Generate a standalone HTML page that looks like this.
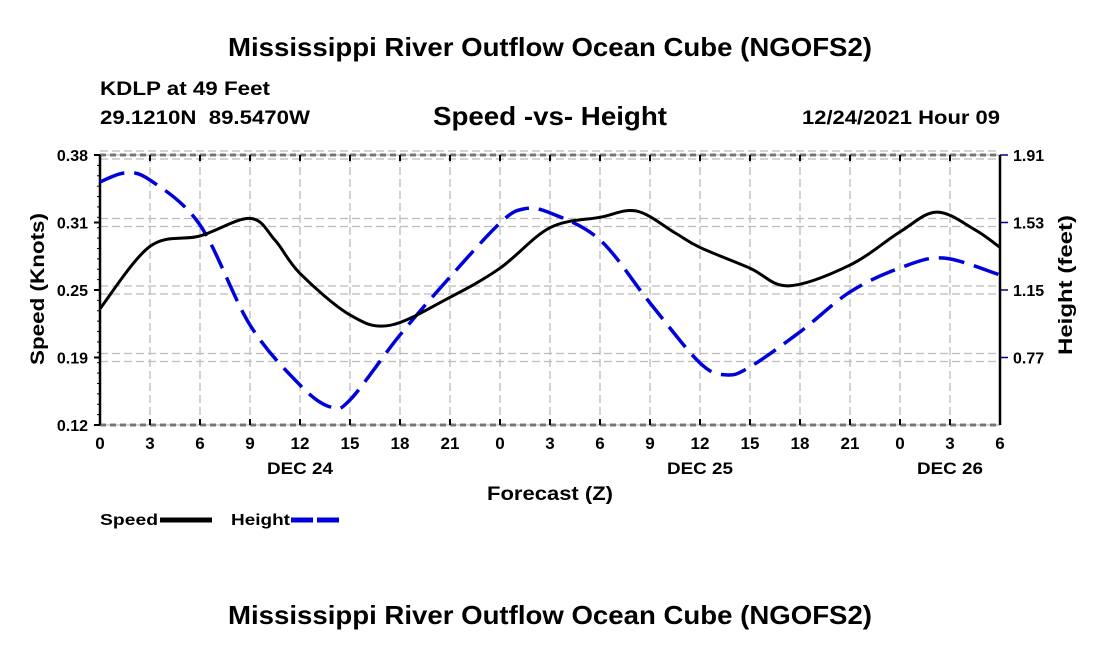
<!DOCTYPE html>
<html><head><meta charset="utf-8"><style>
html,body{margin:0;padding:0;background:#fff;}
svg{display:block;font-family:"Liberation Sans",Arial,sans-serif;font-weight:bold;}
</style></head><body>
<svg id="chart" width="1100" height="650" viewBox="0 0 1100 650">
<text x="550" y="56" font-size="26" text-anchor="middle" textLength="644" lengthAdjust="spacingAndGlyphs">Mississippi River Outflow Ocean Cube (NGOFS2)</text>
<text x="100" y="95" font-size="19" textLength="170" lengthAdjust="spacingAndGlyphs">KDLP at 49 Feet</text>
<text x="100" y="124" font-size="19" textLength="210" lengthAdjust="spacingAndGlyphs" xml:space="preserve">29.1210N  89.5470W</text>
<text x="550" y="125" font-size="26" text-anchor="middle" textLength="234" lengthAdjust="spacingAndGlyphs">Speed -vs- Height</text>
<text x="1000" y="124" font-size="19" text-anchor="end" textLength="198" lengthAdjust="spacingAndGlyphs">12/24/2021 Hour 09</text>
<g id="grid"></g>
<g id="axes"></g>
<g id="series"></g>
<text x="550" y="500" font-size="19" text-anchor="middle" textLength="126" lengthAdjust="spacingAndGlyphs">Forecast (Z)</text>
<text transform="translate(44,289) rotate(-90)" font-size="19" text-anchor="middle" textLength="152" lengthAdjust="spacingAndGlyphs">Speed (Knots)</text>
<text transform="translate(1072,285) rotate(-90)" font-size="19" text-anchor="middle" textLength="140" lengthAdjust="spacingAndGlyphs">Height (feet)</text>
<g>
<text x="100" y="525" font-size="16" textLength="58" lengthAdjust="spacingAndGlyphs">Speed</text>
<line x1="160" y1="520" x2="212" y2="520" stroke="#000" stroke-width="5"/>
<text x="231" y="525" font-size="16" textLength="59" lengthAdjust="spacingAndGlyphs">Height</text>
<line x1="291" y1="520" x2="343" y2="520" stroke="#0000dd" stroke-width="5" stroke-dasharray="22,4"/>
</g>
<text x="550" y="624" font-size="26" text-anchor="middle" textLength="644" lengthAdjust="spacingAndGlyphs">Mississippi River Outflow Ocean Cube (NGOFS2)</text>
</svg>
<script>
const speedHours=[0,3,6,9,10.5,12,15,17.4,21,24,27,30,32.2,34.5,36,39,41.3,45,48,50.2,52.5,54];
const speedValues=[0.232,0.292,0.302,0.319,0.298,0.266,0.226,0.216,0.243,0.271,0.310,0.320,0.326,0.305,0.291,0.271,0.254,0.274,0.306,0.325,0.308,0.291];
const heightHours=[0,1.5,3,6,9,12,13.8,15,18,21,24,25.4,27,30,33,36,37.6,39,42,45,48,50.6,54];
const heightValues=[1.758,1.809,1.769,1.516,0.953,0.615,0.492,0.531,0.897,1.223,1.527,1.606,1.584,1.432,1.077,0.739,0.672,0.717,0.914,1.139,1.274,1.330,1.235];
const xTickLabels=["0","3","6","9","12","15","18","21","0","3","6","9","12","15","18","21","0","3","6"];
const leftTickLabels=["0.12","0.19","0.25","0.31","0.38"];
const rightTickLabels=["0.77","1.15","1.53","1.91"];
const dayLabels=["DEC 24","DEC 25","DEC 26"];
const dayHours=[12,36,51];

const NS="http://www.w3.org/2000/svg";
const L=100,R=1000,T=155,B=425;
const x=h=>L+(R-L)*h/54;
const yS=v=>B-(v-0.12)/(0.38-0.12)*(B-T);
const yH=v=>B-(v-0.39)/(1.91-0.39)*(B-T);
function mk(tag,attrs,parent){const e=document.createElementNS(NS,tag);for(const k in attrs)e.setAttribute(k,attrs[k]);parent.appendChild(e);return e;}
const grid=document.getElementById('grid'),axes=document.getElementById('axes'),series=document.getElementById('series');

xTickLabels.forEach((t,i)=>{
  const px=x(i*3);
  if(i>0&&i<18){const g=mk('line',{x1:px,y1:T,x2:px,y2:B,stroke:'#bbb','stroke-width':1.3,'stroke-dasharray':'8,4'},grid);
  
  }
  const tx=mk('text',{x:px,y:449,'font-size':17,'text-anchor':'middle'},axes);tx.textContent=t;
  
  
});
dayLabels.forEach((t,i)=>{
  const tx=mk('text',{x:x(dayHours[i]),y:474,'font-size':17,'text-anchor':'middle',textLength:66,lengthAdjust:'spacingAndGlyphs'},axes);tx.textContent=t;
  
  
});
leftTickLabels.forEach((t,i)=>{
  const v=0.12+i*0.065,py=yS(v);
  if(i>0){[-4,4].forEach(d=>{const g=mk('line',{x1:L,y1:py+d,x2:R,y2:py+d,stroke:'#bbb','stroke-width':1.3,'stroke-dasharray':'8,4'},grid);
  
  });}
  const tx=mk('text',{x:88,y:py+6,'font-size':16,'text-anchor':'end'},axes);tx.textContent=t;
  
  
  mk('line',{x1:L-6,y1:py,x2:L,y2:py,stroke:'#000','stroke-width':2},axes);
});
for(let k=0;k<=26;k++){const py=T+k*(B-T)/26;mk('line',{x1:L-3,y1:py,x2:L,y2:py,stroke:'#000','stroke-width':1},axes);}
rightTickLabels.forEach((t,i)=>{
  const v=0.77+i*0.38,py=yH(v);
  const tx=mk('text',{x:1013,y:py+6,'font-size':16},axes);tx.textContent=t;
  
  
  mk('line',{x1:R,y1:py,x2:R+8,y2:py,stroke:'#00008b','stroke-width':1.5},axes);
});
mk('line',{x1:L,y1:T,x2:L,y2:B,stroke:'#000','stroke-width':2.5},axes);
mk('line',{x1:R,y1:T,x2:R,y2:B,stroke:'#000','stroke-width':2.5},axes);
[T,B].forEach(py=>{mk('line',{x1:L,y1:py,x2:R,y2:py,stroke:'#000','stroke-width':2.5,'stroke-dasharray':'6,4'},axes);
mk('line',{x1:L,y1:py,x2:R,y2:py,stroke:'#bbb','stroke-width':1.2},axes);});
xTickLabels.forEach((t,i)=>{const px=x(i*3);mk('line',{x1:px,y1:B,x2:px,y2:B-6,stroke:'#000','stroke-width':2},axes);mk('line',{x1:px,y1:T,x2:px,y2:T+6,stroke:'#000','stroke-width':2},axes);});

function smooth(pts){
  let d=`M${pts[0][0]},${pts[0][1]}`;
  for(let i=0;i<pts.length-1;i++){
    const p0=pts[Math.max(0,i-1)],p1=pts[i],p2=pts[i+1],p3=pts[Math.min(pts.length-1,i+2)];
    const c1=[p1[0]+(p2[0]-p0[0])/6,p1[1]+(p2[1]-p0[1])/6],c2=[p2[0]-(p3[0]-p1[0])/6,p2[1]-(p3[1]-p1[1])/6];
    d+=` C${c1[0]},${c1[1]} ${c2[0]},${c2[1]} ${p2[0]},${p2[1]}`;
  }
  return d;
}
const hp=mk('path',{d:smooth(heightHours.map((h,i)=>[x(h),yH(heightValues[i])])),fill:'none',stroke:'#0000dd','stroke-width':3.5,'stroke-dasharray':'26,10'},series);


const sp=mk('path',{d:smooth(speedHours.map((h,i)=>[x(h),yS(speedValues[i])])),fill:'none',stroke:'#000','stroke-width':3},series);


</script>
</body></html>
